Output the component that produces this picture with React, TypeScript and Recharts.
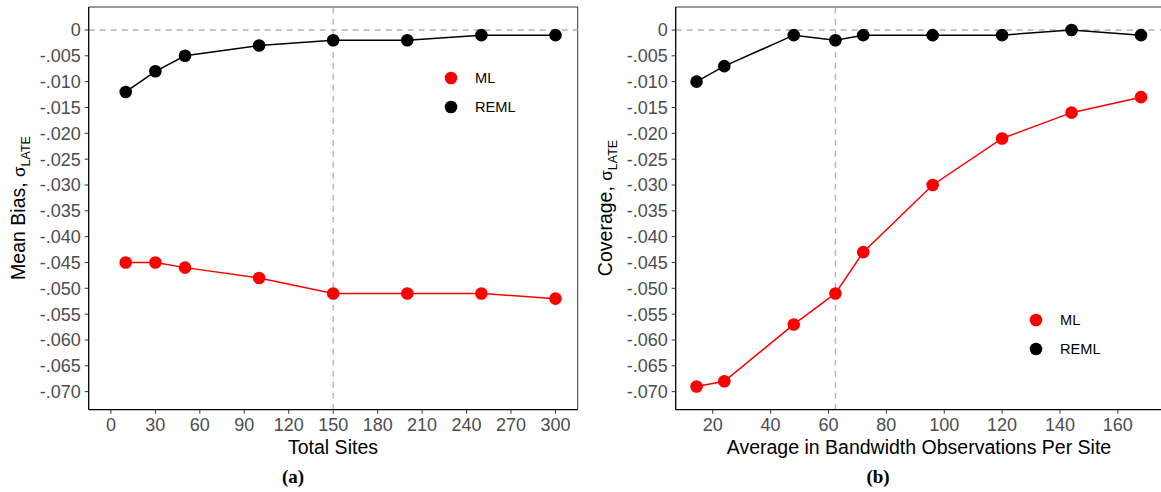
import {
  LineChart,
  Line,
  XAxis,
  YAxis,
  ReferenceLine,
  Legend,
} from "recharts";

// panel (a): total sites
const SITES = [10, 30, 50, 100, 150, 200, 250, 300];
const ML_BIAS = [-0.045, -0.045, -0.046, -0.048, -0.051, -0.051, -0.051, -0.052];
const REML_BIAS = [-0.012, -0.008, -0.005, -0.003, -0.002, -0.002, -0.001, -0.001];

// panel (b): average in-bandwidth observations per site
const BW_OBS = [14.4, 24, 48, 62.4, 72, 96, 120, 144, 168];
const ML_COV = [-0.069, -0.068, -0.057, -0.051, -0.043, -0.03, -0.021, -0.016, -0.013];
const REML_COV = [-0.01, -0.007, -0.001, -0.002, -0.001, -0.001, -0.001, 0, -0.001];

const Y_TICKS = [
  0, -0.005, -0.01, -0.015, -0.02, -0.025, -0.03, -0.035, -0.04, -0.045, -0.05,
  -0.055, -0.06, -0.065, -0.07,
];
const X_TICKS_A = [0, 30, 60, 90, 120, 150, 180, 210, 240, 270, 300];
const X_TICKS_B = [20, 40, 60, 80, 100, 120, 140, 160];

const Y_DOMAIN: [number, number] = [-0.0735, 0.00445];
const X_DOMAIN_A: [number, number] = [-15, 315];
const X_DOMAIN_B: [number, number] = [7.2, 175.6];

const FONT = "'Liberation Sans', Arial, sans-serif";
const TICK = { fill: "#4d4d4d", fontSize: 18, fontFamily: FONT };
const DASH = "#b3b3b3";

const fmtY = (v: number) =>
  v === 0 ? "0" : "-" + Math.abs(v).toFixed(3).slice(1);

const buildRows = (xs: number[], ml: number[], reml: number[]) =>
  xs.map((x, i) => ({ x, ml: ml[i], reml: reml[i] }));

function KeyBox(props: any) {
  const items = props.payload ?? [];
  return (
    <div style={{ fontFamily: FONT, fontSize: 14.6, color: "#000" }}>
      {items.map((it: any) => (
        <div
          key={it.value}
          style={{ display: "flex", alignItems: "center", height: 28.5 }}
        >
          <svg width={14} height={14} style={{ marginRight: 17 }}>
            <circle cx={7} cy={7} r={6.3} fill={it.color} />
          </svg>
          <span>{it.value}</span>
        </div>
      ))}
    </div>
  );
}

interface PanelProps {
  rows: { x: number; ml: number; reml: number }[];
  xDomain: [number, number];
  xTicks: number[];
  vline: number;
  width: number;
  yAxisWidth: number;
  rightMargin: number;
  legendPos: { left: number; top: number };
}

function Panel({
  rows,
  xDomain,
  xTicks,
  vline,
  width,
  yAxisWidth,
  rightMargin,
  legendPos,
}: PanelProps) {
  return (
    <LineChart
      width={width}
      height={492}
      data={rows}
      margin={{ top: 7, right: rightMargin, left: 0, bottom: 52.3 }}
    >
      <XAxis
        type="number"
        dataKey="x"
        domain={xDomain}
        ticks={xTicks}
        interval={0}
        allowDataOverflow
        height={30}
        tick={TICK}
        tickSize={4}
        tickMargin={5}
        axisLine={{ stroke: "#000", strokeWidth: 1.3 }}
        tickLine={{ stroke: "#333" }}
      />
      <YAxis
        type="number"
        domain={Y_DOMAIN}
        ticks={Y_TICKS}
        interval={0}
        allowDataOverflow
        width={yAxisWidth}
        tickFormatter={fmtY}
        tick={TICK}
        tickSize={4}
        tickMargin={4}
        axisLine={{ stroke: "#000", strokeWidth: 1.3 }}
        tickLine={{ stroke: "#333" }}
      />
      <ReferenceLine y={Y_DOMAIN[1]} stroke="#333" strokeWidth={1} />
      <ReferenceLine x={xDomain[1]} stroke="#333" strokeWidth={1} />
      <ReferenceLine y={0} stroke={DASH} strokeWidth={1.3} strokeDasharray="6 5" />
      <ReferenceLine x={vline} stroke={DASH} strokeWidth={1.3} strokeDasharray="6 5" />
      <Line
        name="ML"
        dataKey="ml"
        stroke="#ff0000"
        strokeWidth={1.5}
        dot={{ r: 6.3, fill: "#ff0000", stroke: "none" }}
        isAnimationActive={false}
      />
      <Line
        name="REML"
        dataKey="reml"
        stroke="#000"
        strokeWidth={1.5}
        dot={{ r: 6.3, fill: "#000", stroke: "none" }}
        isAnimationActive={false}
      />
      <Legend
        layout="vertical"
        align="center"
        verticalAlign="middle"
        content={<KeyBox />}
        wrapperStyle={{ left: legendPos.left, top: legendPos.top, width: 100 }}
      />
    </LineChart>
  );
}

const abs = (s: React.CSSProperties): React.CSSProperties => ({
  position: "absolute",
  ...s,
});

function YTitle({ text, left }: { text: string; left: number }) {
  return (
    <div
      style={abs({
        left: left - 150,
        top: 208 - 13,
        width: 300,
        height: 26,
        textAlign: "center",
        transform: "rotate(-90deg)",
        fontFamily: FONT,
        fontSize: 19.5,
        lineHeight: "26px",
        color: "#000",
        whiteSpace: "nowrap",
      })}
    >
      {text}
      <span style={{ fontSize: 17 }}>σ</span>
      <sub style={{ fontSize: 12.5 }}>LATE</sub>
    </div>
  );
}

function XTitle({ text, center }: { text: string; center: number }) {
  return (
    <div
      style={abs({
        left: center - 250,
        top: 436,
        width: 500,
        textAlign: "center",
        fontFamily: FONT,
        fontSize: 19.5,
        color: "#000",
      })}
    >
      {text}
    </div>
  );
}

function Caption({ text, center }: { text: string; center: number }) {
  return (
    <div
      style={abs({
        left: center - 30,
        top: 466,
        width: 60,
        textAlign: "center",
        fontFamily: "'Liberation Serif', 'DejaVu Serif', serif",
        fontWeight: "bold",
        fontSize: 19,
        color: "#000",
      })}
    >
      {text}
    </div>
  );
}

export default function App() {
  const rowsA = buildRows(SITES, ML_BIAS, REML_BIAS);
  const rowsB = buildRows(BW_OBS, ML_COV, REML_COV);

  return (
    <div
      style={abs({
        left: 0,
        top: 0,
        width: 1161,
        height: 492,
        overflow: "hidden",
        background: "#fff",
      })}
    >
      <div style={abs({ left: 0, top: 0 })}>
        <Panel
          rows={rowsA}
          xDomain={X_DOMAIN_A}
          xTicks={X_TICKS_A}
          vline={150}
          width={590}
          yAxisWidth={88.7}
          rightMargin={12.3}
          legendPos={{ left: 444, top: 64 }}
        />
      </div>
      <div style={abs({ left: 580, top: 0 })}>
        <Panel
          rows={rowsB}
          xDomain={X_DOMAIN_B}
          xTicks={X_TICKS_B}
          vline={62.4}
          width={600}
          yAxisWidth={95.7}
          rightMargin={17}
          legendPos={{ left: 449, top: 306 }}
        />
      </div>
      <YTitle text="Mean Bias, " left={18} />
      <YTitle text="Coverage, " left={605} />
      <XTitle text="Total Sites" center={333} />
      <XTitle text="Average in Bandwidth Observations Per Site" center={919} />
      <Caption text="(a)" center={293} />
      <Caption text="(b)" center={878} />
    </div>
  );
}
